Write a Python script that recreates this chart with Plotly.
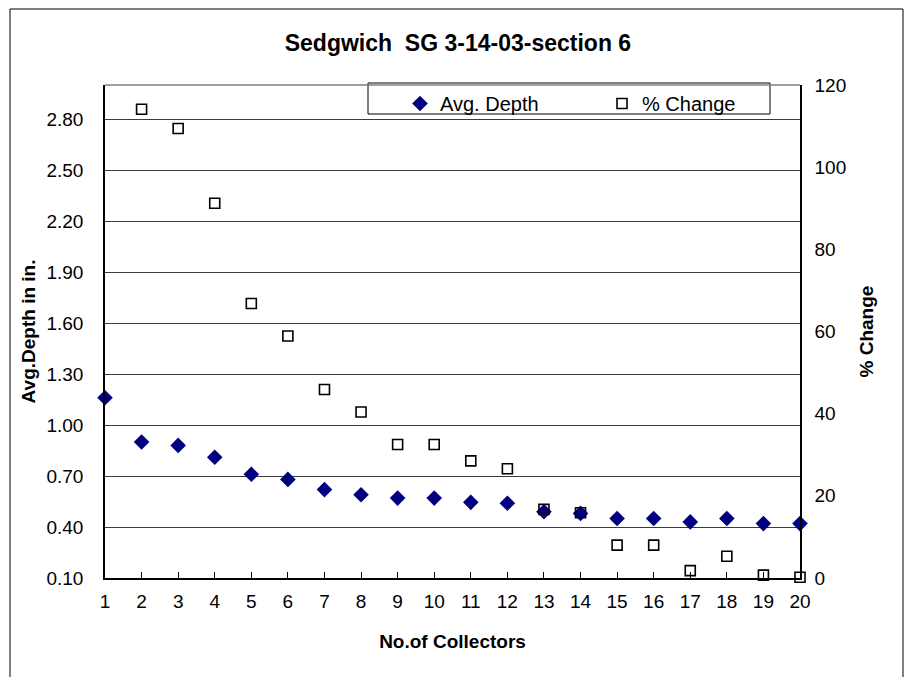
import plotly.graph_objects as go

collectors = list(range(1, 21))
avg_depth = [1.16, 0.90, 0.88, 0.81, 0.71, 0.68, 0.62, 0.59, 0.57, 0.57,
             0.545, 0.54, 0.49, 0.48, 0.45, 0.45, 0.43, 0.45, 0.42, 0.42]
# no % change for the first collector
pct_x = list(range(2, 21))
pct_change = [114.1, 109.4, 91.2, 66.8, 58.9, 45.9, 40.4, 32.5, 32.5,
              28.5, 26.6, 16.7, 15.9, 8.0, 8.0, 1.8, 5.3, 0.7, 0.2]
depth_ticks = [0.10, 0.40, 0.70, 1.00, 1.30, 1.60, 1.90, 2.20, 2.50, 2.80]
pct_ticks = [0, 20, 40, 60, 80, 100, 120]

FONT = "Liberation Sans, Arial, sans-serif"

# page has an 8px body margin, so the figure is 16px smaller than the window
OFF = 8
W, H = 912 - 2 * OFF, 685 - 2 * OFF
# plot area on screen: x 105..800, y 85..578
L, T = 105 - OFF, 85 - OFF
R, B = W - (800 - OFF), H - (578 - OFF)
pw, ph = W - L - R, H - T - B


def px(x):
    return (x - OFF - L) / pw


def py(y):
    return (H - B - (y - OFF)) / ph


fig = go.Figure()
fig.add_trace(go.Scatter(x=collectors, y=avg_depth, name="Avg. Depth",
                         mode="markers", cliponaxis=False,
                         marker=dict(symbol="diamond", size=12, color="#000080")))
fig.add_trace(go.Scatter(x=pct_x, y=pct_change, name="% Change",
                         mode="markers", yaxis="y2", cliponaxis=False,
                         marker=dict(symbol="square-open", size=10, color="black",
                                     line=dict(width=1.6, color="black"))))

fig.update_layout(
    width=W, height=H,
    margin=dict(l=L, r=R, t=T, b=B),
    paper_bgcolor="white", plot_bgcolor="white",
    font=dict(family=FONT, size=19, color="black"),
    title=dict(text="<b>Sedgwich  SG 3-14-03-section 6</b>", x=px(454), xanchor="center",
               y=1 - (43 - OFF) / H, yanchor="middle", font=dict(size=23)),
    xaxis=dict(range=[1, 20], tickmode="linear", dtick=1, showgrid=False,
               showline=True, linecolor="black", linewidth=1.5,
               ticks="inside", ticklen=6, tickcolor="black",
               ticklabelstandoff=5, zeroline=False,
               title=dict(text="<b>No.of Collectors</b>", standoff=24,
                          font=dict(size=19))),
    yaxis=dict(range=[0.1, 3.0], tickvals=depth_ticks, tickformat=".2f",
               showgrid=True, gridcolor="#3a3a3a", gridwidth=1,
               showline=True, linecolor="black", linewidth=1.5,
               ticks="", ticklabelstandoff=16, zeroline=False,
               title=dict(text="<b>Avg.Depth in in.</b>", standoff=6,
                          font=dict(size=19))),
    yaxis2=dict(range=[0, 120], tickvals=pct_ticks, overlaying="y", side="right",
                showgrid=False, showline=True, linecolor="black", linewidth=1.5,
                ticks="", ticklabelstandoff=9, zeroline=False,
                title=dict(text="<b>% Change</b>", standoff=14,
                           font=dict(size=19))),
    legend=dict(orientation="h", x=px(400), y=py(84), xanchor="left", yanchor="top",
                bgcolor="rgba(0,0,0,0)", borderwidth=0, entrywidth=157,
                font=dict(size=20)),
    shapes=[
        # top edge of plot area
        dict(type="line", xref="paper", yref="paper", x0=0, x1=1, y0=1, y1=1,
             line=dict(color="#808080", width=1.5)),
        # legend box
        dict(type="rect", xref="paper", yref="paper", x0=px(368), x1=px(770),
             y0=py(114), y1=py(83), line=dict(color="black", width=1),
             fillcolor="white", layer="below"),
        # chart frame
        dict(type="rect", xref="paper", yref="paper", x0=px(10), x1=px(903),
             y0=py(684), y1=py(9), line=dict(color="black", width=1)),
    ],
)

fig.write_html("out.html")
